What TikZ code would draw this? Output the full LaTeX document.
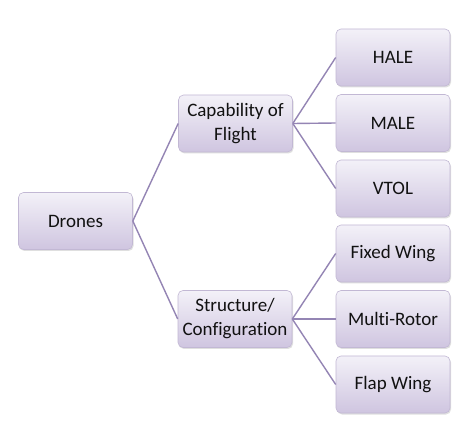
\documentclass[tikz,border=0pt]{standalone}
\usepackage{fontspec}
\setmainfont[Ligatures=NoCommon]{Carlito}
\usetikzlibrary{shadows}
\definecolor{boxtop}{HTML}{F3F1F8}
\definecolor{boxbot}{HTML}{CFC5E0}
\definecolor{boxline}{HTML}{C2B8D4}
\definecolor{linkc}{HTML}{9485B4}
\definecolor{txt}{HTML}{111111}
\tikzset{
  box/.style={rectangle, rounded corners=5pt, draw=boxline, line width=0.6pt,
    top color=boxtop, bottom color=boxbot, minimum width=114pt, minimum height=57pt,
    align=center, text=txt, inner sep=2pt,
    font=\fontsize{19}{24}\selectfont,
    drop shadow={opacity=0.25, shadow xshift=1pt, shadow yshift=-1.5pt}},
  link/.style={draw=linkc, line width=1.4pt}
}
\begin{document}
\begin{tikzpicture}[x=1pt,y=-1pt]
\useasboundingbox[fill=white] (0,0) rectangle (467,436);
\node[box] (drones) at (75.5,221) {Drones};
\node[box] (cap) at (235.5,123.5) {Capability of\\Flight};
\node[box] (str) at (235,319) {Structure/\\Configuration};
\node[box] (hale) at (393,57.5) {HALE};
\node[box] (male) at (393,123) {MALE};
\node[box] (vtol) at (393,188.5) {VTOL};
\node[box] (fixed) at (393,253.5) {Fixed Wing};
\node[box] (multi) at (393,319) {Multi-Rotor};
\node[box] (flap) at (393,384.5) {Flap Wing};
\draw[link] (drones.east) -- (cap.west);
\draw[link] (drones.east) -- (str.west);
\draw[link] (cap.east) -- (hale.west);
\draw[link] (cap.east) -- (male.west);
\draw[link] (cap.east) -- (vtol.west);
\draw[link] (str.east) -- (fixed.west);
\draw[link] (str.east) -- (multi.west);
\draw[link] (str.east) -- (flap.west);
\end{tikzpicture}
\end{document}
